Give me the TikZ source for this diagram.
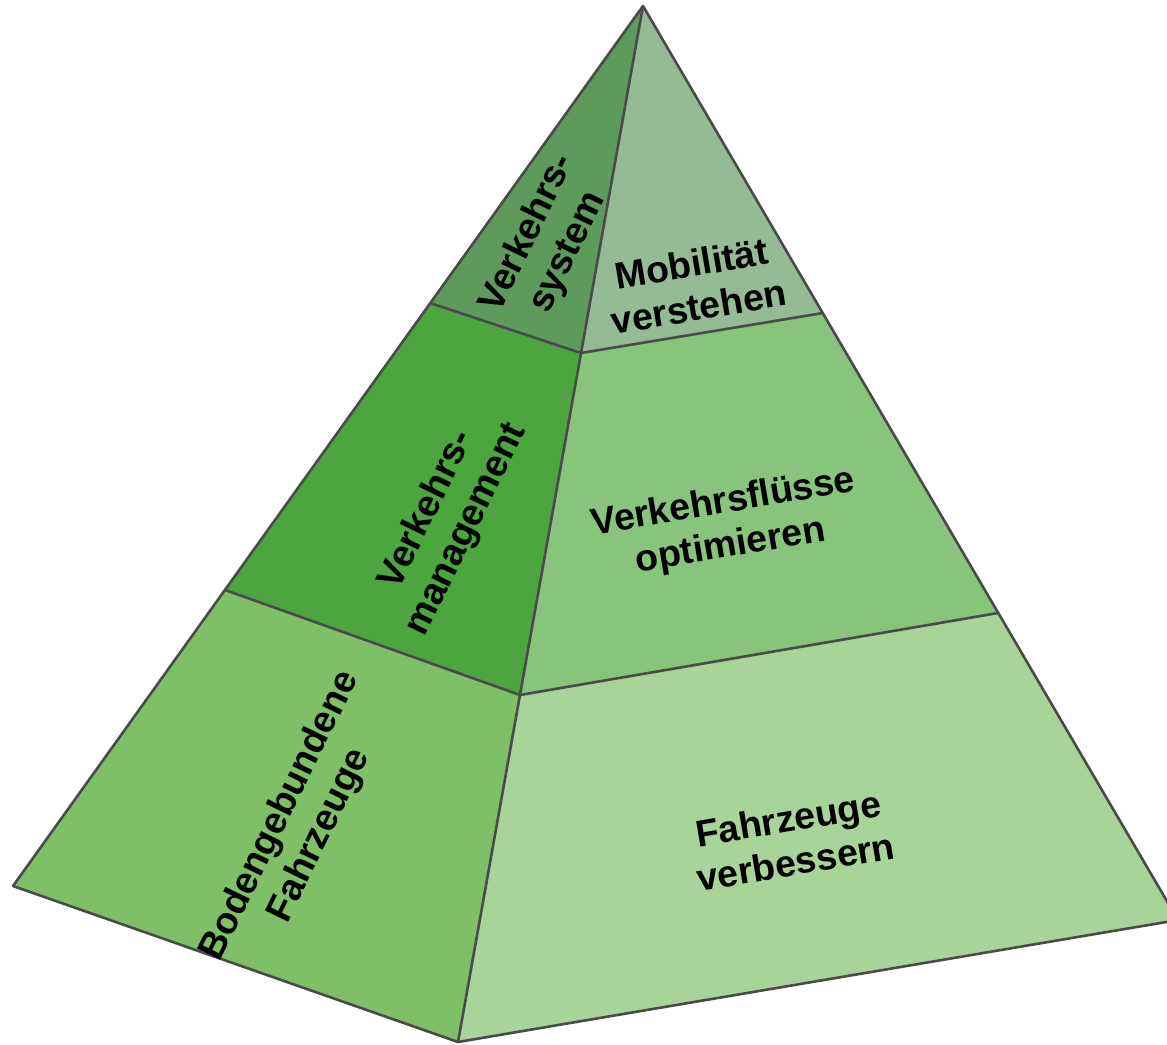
\documentclass[tikz,border=0pt]{standalone}
\usepackage{fontspec}
\setmainfont{Liberation Sans}
\definecolor{cTL}{HTML}{5E9A5B}
\definecolor{cTR}{HTML}{94BB93}
\definecolor{cML}{HTML}{4CA53F}
\definecolor{cMR}{HTML}{88C47C}
\definecolor{cBL}{HTML}{7EBF67}
\definecolor{cBR}{HTML}{A8D399}
\definecolor{edge}{HTML}{4A4A4A}
\tikzset{
  face/.style={draw=edge, line width=2.6pt, line join=round},
  lbl/.style={font=\fontsize{37.5}{44}\selectfont\bfseries, align=center, inner sep=0pt, text=black},
  leftlbl/.style={lbl, rotate=64},
  rightlbl/.style={lbl, rotate=9.6}
}
\begin{document}
\begin{tikzpicture}[x=1pt,y=-1pt]
\useasboundingbox (0,0) rectangle (1167,1044);
\clip (0,0) rectangle (1167,1044);
% corners
\coordinate (apex) at (643,6);
\coordinate (L) at (13,886);
\coordinate (F) at (458,1042);
\coordinate (R) at (1178,920);
% band boundaries
\coordinate (L1) at (430,303);
\coordinate (M1) at (581,353);
\coordinate (R1) at (823,313);
\coordinate (L2) at (225,590);
\coordinate (M2) at (520,695);
\coordinate (R2) at (998,613);
% faces
\fill[cTL] (apex) -- (L1) -- (M1) -- cycle;
\fill[cTR] (apex) -- (M1) -- (R1) -- cycle;
\fill[cML] (L1) -- (L2) -- (M2) -- (M1) -- cycle;
\fill[cMR] (M1) -- (M2) -- (R2) -- (R1) -- cycle;
\fill[cBL] (L2) -- (L) -- (F) -- (M2) -- cycle;
\fill[cBR] (M2) -- (F) -- (R) -- (R2) -- cycle;
% edges
\draw[face] (apex) -- (L) -- (F) -- (R) -- cycle;
\draw[face] (apex) -- (F);
\draw[face] (L1) -- (M1) -- (R1);
\draw[face] (L2) -- (M2) -- (R2);
% labels
\node[leftlbl] (tsys) at (548,243) {Verkehrs-\\system};
\node[rightlbl] (tmob) at (695,285) {Mobilität\\verstehen};
\node[leftlbl] (tman) at (447,520) {Verkehrs-\\management};
\node[rightlbl] (tflu) at (727,525) {Verkehrsflüsse\\optimieren};
\node[leftlbl] (tbod) at (300,826) {Bodengebundene\\Fahrzeuge};
\node[rightlbl] (tfzg) at (792,840) {Fahrzeuge\\verbessern};
\end{tikzpicture}
\end{document}
